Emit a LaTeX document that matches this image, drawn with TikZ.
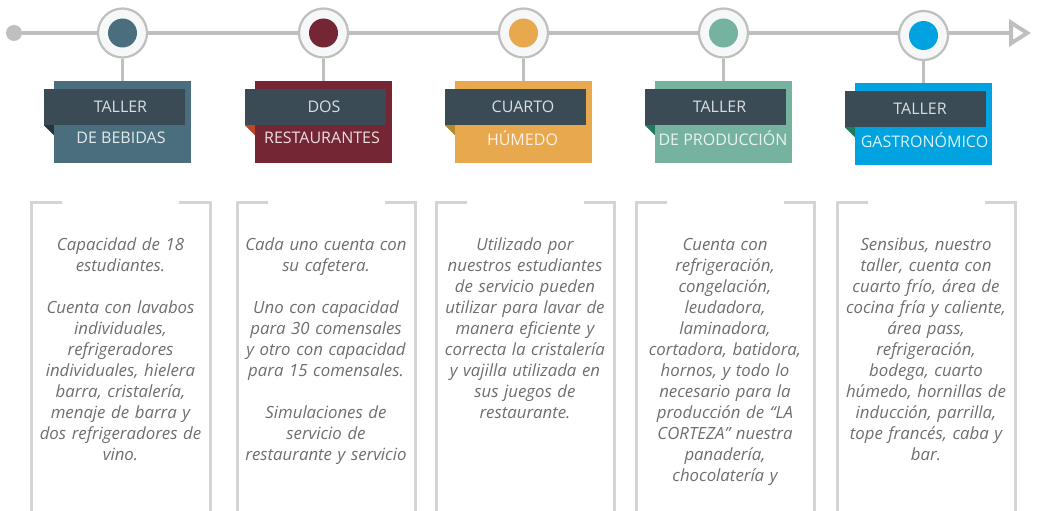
\documentclass[tikz,border=0pt]{standalone}
\usepackage{fontspec}
\setmainfont{Open Sans}
\usepackage{xcolor}
\usepackage{tikz}
\usetikzlibrary{arrows.meta,positioning,calc}

\definecolor{linegray}{HTML}{BEC0BD}
\definecolor{ringfill}{HTML}{F5F7F9}
\definecolor{cardgray}{HTML}{D5D5D5}
\definecolor{textgray}{HTML}{6E6E6E}
\definecolor{ribboncol}{HTML}{3A4B55}
\definecolor{ribbontext}{HTML}{D9DEE1}
\definecolor{colA}{HTML}{4A6E7E} \definecolor{foldA}{HTML}{26343B}
\definecolor{colB}{HTML}{742634} \definecolor{foldB}{HTML}{B8482C}
\definecolor{colC}{HTML}{E8A84E} \definecolor{foldC}{HTML}{B08B2E}
\definecolor{colD}{HTML}{76B2A0} \definecolor{foldD}{HTML}{1F7A5E}
\definecolor{colE}{HTML}{00A3E0} \definecolor{foldE}{HTML}{1F7A5E}

\tikzset{
  axis/.style = {draw=linegray, line width=4pt},
  startdot/.style = {circle, fill=linegray, minimum size=16pt, inner sep=0pt},
  ring/.style = {circle, draw=linegray, line width=2.2pt, fill=ringfill, minimum size=49pt, inner sep=0pt},
  dot/.style = {circle, minimum size=29pt, inner sep=0pt},
  stem/.style = {draw=linegray, line width=3pt},
  box/.style = {rectangle, minimum width=137pt, minimum height=82pt, inner sep=0pt},
  ribbon/.style = {rectangle, fill=ribboncol, minimum width=141pt, minimum height=36pt, inner sep=0pt},
  toptext/.style = {font=\fontsize{16}{19}\selectfont, text=ribbontext, inner sep=0pt},
  subtext/.style = {font=\fontsize{16}{19}\selectfont, text=white, text opacity=0.85, inner sep=0pt},
  card/.style = {draw=cardgray, line width=3pt},
  cardtext/.style = {font=\fontsize{16.8}{21}\selectfont\itshape, text=textgray, text width=180pt, align=center, anchor=north, inner sep=0pt}
}

\begin{document}
\begin{tikzpicture}[x=1pt,y=-1pt]
		\useasboundingbox (0,0) rectangle (1037,511); % page size
		
		\node[startdot] (start) at (14,33) {}; % start of timeline
		\coordinate (tip) at (1031,33); % arrow tip
		\draw[axis,-{Triangle[open,length=22pt,width=27pt]}] (start) -- (tip); % timeline
		
		\node[ring] (c1) at (122.5,33) {}; % first ring
		\node[ring] (c2) at (323.5,33) {}; % ring
		\node[ring] (c3) at (523.5,33) {}; % ring
		\node[ring] (c4) at (723.5,33) {}; % ring
		\node[ring] (c5) at (923.5,35.5) {}; % last ring
		\node[dot,fill=colA] (p1) at (c1) {};
		\node[dot,fill=colB] (p2) at (c2) {};
		\node[dot,fill=colC] (p3) at (c3) {};
		\node[dot,fill=colD] (p4) at (c4) {};
		\node[dot,fill=colE] (p5) at (c5) {};
		
		\node[box,fill=colA] (b1) at (122.5,122) {}; % colored boxes
		\node[box,fill=colB] (b2) at (323.5,122) {};
		\node[box,fill=colC] (b3) at (523.5,122) {};
		\node[box,fill=colD] (b4) at (723.5,122) {};
		\node[box,fill=colE] (b5) at (923.5,124) {};
		
		\draw[stem] (c1) -- (b1); % stems
		\draw[stem] (c2) -- (b2);
		\draw[stem] (c3) -- (b3);
		\draw[stem] (c4) -- (b4);
		\draw[stem] (c5) -- (b5);
		
		\node[ribbon] (r1) at (114.5,107) {}; % dark ribbons
		\node[ribbon] (r2) at (315.5,107) {};
		\node[ribbon] (r3) at (515.5,107) {};
		\node[ribbon] (r4) at (715.5,107) {};
		\node[ribbon] (r5) at (915.5,109) {};
		
		\fill[foldA] (r1.south west) -- (b1.west |- r1.south) -- ++(0,10) -- cycle; % folds
		\fill[foldB] (r2.south west) -- (b2.west |- r2.south) -- ++(0,10) -- cycle;
		\fill[foldC] (r3.south west) -- (b3.west |- r3.south) -- ++(0,10) -- cycle;
		\fill[foldD] (r4.south west) -- (b4.west |- r4.south) -- ++(0,10) -- cycle;
		\fill[foldE] (r5.south west) -- (b5.west |- r5.south) -- ++(0,10) -- cycle;
		
		\node[toptext] (t1) at (120.5,107) {TALLER};
		\node[toptext] (t2) at (324,107) {DOS};
		\node[toptext] (t3) at (523,107) {CUARTO};
		\node[toptext] (t4) at (719.5,107) {TALLER};
		\node[toptext] (t5) at (920,109) {TALLER};
		\node[subtext] (s1) at (121,138) {DE BEBIDAS};
		\node[subtext] (s2) at (322,138) {RESTAURANTES};
		\node[subtext] (s3) at (522.5,138) {HÚMEDO};
		\node[subtext] (s4) at (723,138) {DE PRODUCCIÓN};
		\node[subtext] (s5) at (924.5,140) {GASTRONÓMICO};
		
		% card frames
		\draw[card] (62,202) -- (31,202) -- (31,511); \draw[card] (179,202) -- (210,202) -- (210,511);
		\draw[card] (268,202) -- (237,202) -- (237,511); \draw[card] (385,202) -- (415,202) -- (415,511);
		\draw[card] (467,202) -- (436,202) -- (436,511); \draw[card] (584,202) -- (614,202) -- (614,511);
		\draw[card] (667,202) -- (636,202) -- (636,511); \draw[card] (784,202) -- (814,202) -- (814,511);
		\draw[card] (868,202) -- (837,202) -- (837,511); \draw[card] (985,202) -- (1015,202) -- (1015,511);
		
		\node[cardtext] (d1) at (120.5,238) {Capacidad de 18\\ estudiantes.\\[21pt] Cuenta con lavabos\\ individuales,\\ refrigeradores\\ individuales, hielera\\ barra, cristalería,\\ menaje de barra y\\ dos refrigeradores de\\ vino.};
		\node[cardtext] (d2) at (326,238) {Cada uno cuenta con\\ su cafetera.\\[21pt] Uno con capacidad\\ para 30 comensales\\ y otro con capacidad\\ para 15 comensales.\\[21pt] Simulaciones de\\ servicio de\\ restaurante y servicio};
		\node[cardtext] (d3) at (525,238) {Utilizado por\\ nuestros estudiantes\\ de servicio pueden\\ utilizar para lavar de\\ manera eficiente y\\ correcta la cristalería\\ y vajilla utilizada en\\ sus juegos de\\ restaurante.};
		\node[cardtext] (d4) at (725,238) {Cuenta con\\ refrigeración,\\ congelación,\\ leudadora,\\ laminadora,\\ cortadora, batidora,\\ hornos, y todo lo\\ necesario para la\\ producción de “LA\\ CORTEZA” nuestra\\ panadería,\\ chocolatería y};
		\node[cardtext] (d5) at (926,238) {Sensibus, nuestro\\ taller, cuenta con\\ cuarto frío, área de\\ cocina fría y caliente,\\ área pass,\\ refrigeración,\\ bodega, cuarto\\ húmedo, hornillas de\\ inducción, parrilla,\\ tope francés, caba y\\ bar.};
		
\end{tikzpicture}
\end{document}
